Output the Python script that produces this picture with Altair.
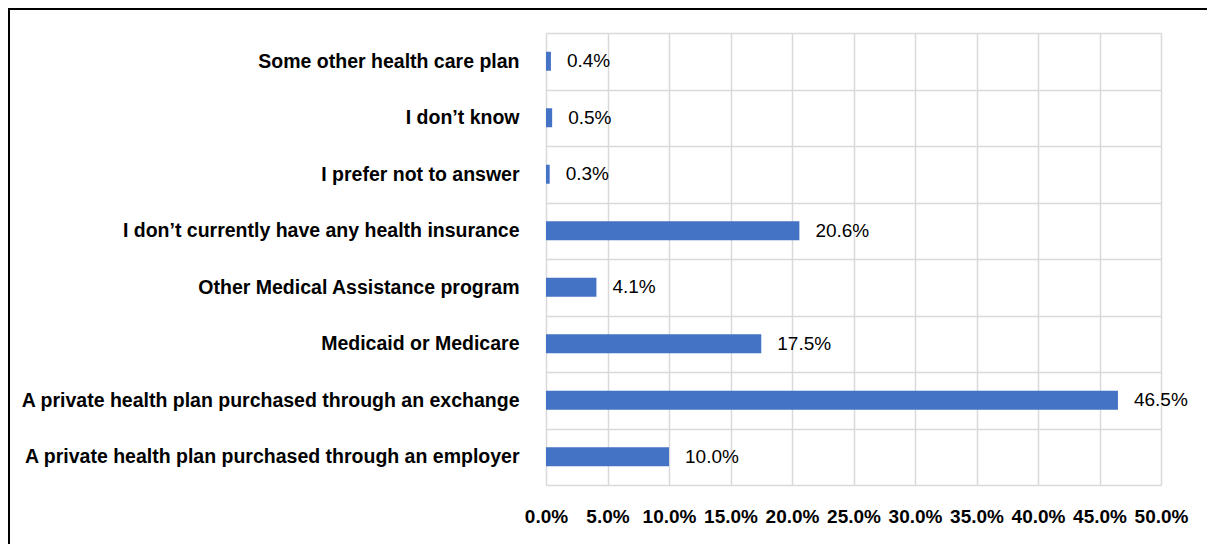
import altair as alt
import pandas as pd

categories = [
    "Some other health care plan",
    "I don’t know",
    "I prefer not to answer",
    "I don’t currently have any health insurance",
    "Other Medical Assistance program",
    "Medicaid or Medicare",
    "A private health plan purchased through an exchange",
    "A private health plan purchased through an employer",
]
shares = [0.4, 0.5, 0.3, 20.6, 4.1, 17.5, 46.5, 10.0]
tick_values = [0, 5, 10, 15, 20, 25, 30, 35, 40, 45, 50]

df = pd.DataFrame({
    "plan": categories,
    "share": shares,
    "label": [f"{v:.1f}%" for v in shares],
})

FONT = "Liberation Sans, Arial, sans-serif"
GRID = "#d9d9d9"

y_enc = alt.Y(
    "plan:N",
    sort=categories,
    scale=alt.Scale(paddingInner=0, paddingOuter=0),
    axis=alt.Axis(
        title=None, domain=False, ticks=False, labelPadding=27,
        labelFont=FONT, labelFontWeight="bold", labelFontSize=19.5,
        labelColor="black", grid=True, gridColor=GRID, gridWidth=1.5,
        tickBand="extent", labelLimit=700,
    ),
)
x_enc = alt.X(
    "share:Q",
    scale=alt.Scale(domain=[0, 50], nice=False),
    axis=alt.Axis(
        title=None, values=tick_values,
        labelExpr="format(datum.value, '.1f') + '%'",
        labelOverlap=False, labelFlush=False,
        domain=False, ticks=False, grid=True, gridColor=GRID, gridWidth=1.5,
        labelPadding=22, labelFont=FONT, labelFontWeight="bold",
        labelFontSize=19, labelColor="black",
    ),
)

bars = alt.Chart(df).mark_bar(size=19, color="#4472C4").encode(x=x_enc, y=y_enc)

text = alt.Chart(df).mark_text(
    align="left", baseline="middle", dx=16, font=FONT, fontSize=19, color="black"
).encode(
    x="share:Q",
    y=alt.Y("plan:N", sort=categories),
    text="label:N",
)

dummy = pd.DataFrame({"a": [0]})
left_border = alt.Chart(dummy).mark_rule(color="black", strokeWidth=2).encode(
    x=alt.value(-537), y=alt.value(-24), y2=alt.value(530)
)
top_border = alt.Chart(dummy).mark_rule(color="black", strokeWidth=2).encode(
    x=alt.value(-538), x2=alt.value(661), y=alt.value(-24)
)

chart = alt.layer(bars, text, left_border, top_border).properties(
    width=615,
    height=452,
    autosize=alt.AutoSizeParams(type="none"),
    padding={"left": 538, "top": 25, "right": 46, "bottom": 59},
).configure_view(stroke=None)

chart.save("out.html", embed_options={"renderer": "svg", "actions": False})
